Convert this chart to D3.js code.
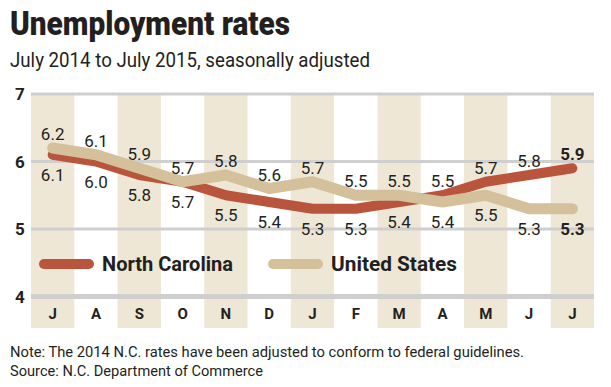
<!DOCTYPE html>
<html>
<head>
<meta charset="utf-8">
<script src="https://cdn.jsdelivr.net/npm/d3@7"></script>
<style>
  body { margin: 0; background: #fff; }
  text { font-family: Roboto, "Noto Sans", sans-serif; fill: #231f20; }
</style>
</head>
<body>
<div id="chart"></div>
<script>
var months = ["J", "A", "S", "O", "N", "D", "J", "F", "M", "A", "M", "J", "J"];
var ncRates = [6.1, 6.0, 5.8, 5.7, 5.5, 5.4, 5.3, 5.3, 5.4, 5.5, 5.7, 5.8, 5.9];
var usRates = [6.2, 6.1, 5.9, 5.7, 5.8, 5.6, 5.7, 5.5, 5.5, 5.4, 5.5, 5.3, 5.3];
var yTicks = [4, 5, 6, 7];

var width = 611, height = 387;
var ncColor = "#b9553d", usColor = "#d4c09b", bandColor = "#eee7d5", gridColor = "#cfcfcf";

var svg = d3.select("#chart").append("svg")
    .attr("width", width)
    .attr("height", height);

var x = d3.scaleBand()
    .domain(d3.range(months.length))
    .range([31, 594]);

var y = d3.scaleLinear()
    .domain([4, 7])
    .range([296.5, 94]);

function cx(i) { return x(i) + x.bandwidth() / 2; }

// title
svg.append("text")
    .attr("x", 10).attr("y", 35)
    .attr("font-size", 33).attr("font-weight", 900)
    .attr("textLength", 280).attr("lengthAdjust", "spacingAndGlyphs")
    .text("Unemployment rates");

svg.append("text")
    .attr("x", 10).attr("y", 67)
    .attr("font-size", 21)
    .attr("textLength", 360).attr("lengthAdjust", "spacingAndGlyphs")
    .text("July 2014 to July 2015, seasonally adjusted");

// alternating bands
svg.append("g").selectAll("rect")
    .data(d3.range(months.length).filter(function(i) { return i % 2 == 0; }))
  .enter().append("rect")
    .attr("x", function(i) { return x(i); })
    .attr("y", y(7))
    .attr("width", x.bandwidth())
    .attr("height", 328 - y(7))
    .attr("fill", bandColor);

// gridlines
svg.append("g").selectAll("line")
    .data(yTicks)
  .enter().append("line")
    .attr("x1", 31).attr("x2", 594)
    .attr("y1", function(d) { return y(d); })
    .attr("y2", function(d) { return y(d); })
    .attr("stroke", gridColor)
    .attr("stroke-width", function(d) { return d == 4 ? 5 : 3; });

svg.append("g").selectAll("text")
    .data(yTicks)
  .enter().append("text")
    .attr("x", 20)
    .attr("y", function(d) { return y(d) + 6; })
    .attr("text-anchor", "middle")
    .attr("font-size", 17).attr("font-weight", 700)
    .text(function(d) { return d; });

// month labels
svg.append("g").selectAll("text")
    .data(months)
  .enter().append("text")
    .attr("x", function(d, i) { return cx(i); })
    .attr("y", 319)
    .attr("text-anchor", "middle")
    .attr("font-size", 15).attr("font-weight", 700)
    .text(function(d) { return d; });

// lines
var line = d3.line()
    .x(function(d, i) { return cx(i); })
    .y(function(d) { return y(d); });

svg.append("path")
    .datum(ncRates)
    .attr("d", line)
    .attr("fill", "none")
    .attr("stroke", ncColor)
    .attr("stroke-width", 10)
    .attr("stroke-linecap", "round")
    .attr("stroke-linejoin", "round");

svg.append("path")
    .datum(usRates)
    .attr("d", line)
    .attr("fill", "none")
    .attr("stroke", usColor)
    .attr("stroke-width", 11)
    .attr("stroke-linecap", "round")
    .attr("stroke-linejoin", "round");

// value labels: higher value above, lower value below
var last = months.length - 1;
var labels = svg.append("g");
months.forEach(function(m, i) {
  var hi = Math.max(ncRates[i], usRates[i]), lo = Math.min(ncRates[i], usRates[i]);
  labels.append("text")
      .attr("x", cx(i)).attr("y", y(hi) - 8)
      .attr("text-anchor", "middle")
      .attr("font-size", 17)
      .attr("font-weight", i == last ? 700 : 400)
      .text(hi.toFixed(1));
  labels.append("text")
      .attr("x", cx(i)).attr("y", y(lo) + 26)
      .attr("text-anchor", "middle")
      .attr("font-size", 17)
      .attr("font-weight", i == last ? 700 : 400)
      .text(lo.toFixed(1));
});

// legend
var legend = [
  {name: "North Carolina", color: ncColor, x: 39, w: 131},
  {name: "United States", color: usColor, x: 268, w: 126}
];
var lg = svg.append("g").selectAll("g")
    .data(legend)
  .enter().append("g");
lg.append("line")
    .attr("x1", function(d) { return d.x + 5; })
    .attr("x2", function(d) { return d.x + 50; })
    .attr("y1", 264).attr("y2", 264)
    .attr("stroke", function(d) { return d.color; })
    .attr("stroke-width", 10)
    .attr("stroke-linecap", "round");
lg.append("text")
    .attr("x", function(d) { return d.x + 63; })
    .attr("y", 271)
    .attr("font-size", 20).attr("font-weight", 700)
    .attr("textLength", function(d) { return d.w; })
    .attr("lengthAdjust", "spacingAndGlyphs")
    .text(function(d) { return d.name; });

// footer
svg.append("text")
    .attr("x", 10).attr("y", 357)
    .attr("font-size", 15)
    .attr("textLength", 514).attr("lengthAdjust", "spacingAndGlyphs")
    .text("Note: The 2014 N.C. rates have been adjusted to conform to federal guidelines.");

svg.append("text")
    .attr("x", 10).attr("y", 376)
    .attr("font-size", 15)
    .attr("textLength", 253).attr("lengthAdjust", "spacingAndGlyphs")
    .text("Source: N.C. Department of Commerce");
</script>
</body>
</html>
